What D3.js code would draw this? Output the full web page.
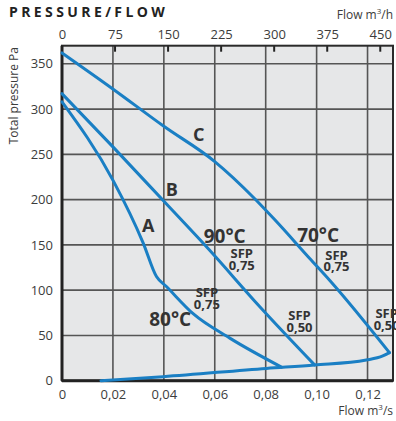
<!DOCTYPE html>
<html>
<head>
<meta charset="utf-8">
<script src="https://cdn.jsdelivr.net/npm/d3@7"></script>
<style>
  body { margin: 0; background: #fff; }
  svg { display: block; overflow: visible; }
  text { font-family: "Open Sans", "DejaVu Sans", sans-serif; }
</style>
</head>
<body>
<svg width="396" height="421"></svg>
<script>
// flow in m3/s, pressure in Pa
var curveAx = [0, 0.0201, 0.0319, 0.0371, 0.0410, 0.0515, 0.0659, 0.0862];
var curveAy = [308, 221, 152, 115, 104, 74, 47, 15];
var curveBx = [0, 0.0201, 0.0404, 0.0580, 0.0776, 0.0992];
var curveBy = [317, 258, 197, 144, 82, 17.5];
var curveCx = [0, 0.0201, 0.0400, 0.0600, 0.0757, 0.0835, 0.0973, 0.1051, 0.1286];
var curveCy = [362, 322, 281, 242, 201, 178, 135, 111, 31];
var baseX = [0.0153, 0.0397, 0.0803, 0.0992, 0.1195, 0.126, 0.1286];
var baseY = [0, 4.4, 13.6, 17.3, 22.8, 27.3, 31];

var xTicks = [0, 0.02, 0.04, 0.06, 0.08, 0.10, 0.12];
var yTicks = [0, 50, 100, 150, 200, 250, 300, 350];
var topTicks = [0, 75, 150, 225, 300, 375, 450];

var letterNames = ["A", "B", "C"];
var letterX = [0.0339, 0.0431, 0.0537];
var letterY = [164, 204, 264.7];
var tempNames = ["90°C", "80°C", "70°C"];
var tempX = [0.0639, 0.0425, 0.1006];
var tempY = [152.5, 60.4, 153.7];
var sfpValues = ["0,75", "0,75", "0,75", "0,50", "0,50"];
var sfpX = [0.0706, 0.0569, 0.1078, 0.0933, 0.1275];
var sfpY = [135.5, 92.4, 133.3, 67, 69.2];

function zip(xs, ys) {
    return xs.map(function(d, i) { return { x: d, y: ys[i] }; });
}

var svg = d3.select("svg");
var margin = { top: 45.7, right: 3, bottom: 40.3, left: 62 };
var width = 396 - margin.left - margin.right;
var height = 421 - margin.top - margin.bottom;

var x = d3.scaleLinear().domain([0, 0.13]).range([0, width]);
var xh = d3.scaleLinear().domain([0, 0.13 * 3600]).range([0, width]);
var y = d3.scaleLinear().domain([0, 370]).range([height, 0]);

var g = svg.append("g").attr("transform", "translate(" + margin.left + "," + margin.top + ")");

// plot background
g.append("rect").attr("width", width).attr("height", height).attr("fill", "#e6e7e8");

// grid
g.selectAll(".vgrid").data(xTicks.slice(1)).enter().append("line")
    .attr("x1", function(d) { return x(d); }).attr("x2", function(d) { return x(d); })
    .attr("y1", 0).attr("y2", height)
    .attr("stroke", "#555").attr("stroke-width", 1.6);
g.selectAll(".hgrid").data(yTicks.slice(1)).enter().append("line")
    .attr("x1", 0).attr("x2", width)
    .attr("y1", function(d) { return y(d); }).attr("y2", function(d) { return y(d); })
    .attr("stroke", "#555").attr("stroke-width", 1.6);

// top ticks (m3/h)
g.selectAll(".ttick").data(topTicks.slice(1)).enter().append("line")
    .attr("x1", function(d) { return xh(d); }).attr("x2", function(d) { return xh(d); })
    .attr("y1", 0).attr("y2", 6)
    .attr("stroke", "#222").attr("stroke-width", 2);

// frame
g.append("rect").attr("width", width).attr("height", height)
    .attr("fill", "none").attr("stroke", "#2a2a2a").attr("stroke-width", 2);
g.append("line").attr("x1", 0).attr("x2", 0).attr("y1", 0).attr("y2", height)
    .attr("stroke", "#222").attr("stroke-width", 3);
g.append("line").attr("x1", 0).attr("x2", width).attr("y1", height).attr("y2", height)
    .attr("stroke", "#222").attr("stroke-width", 3);

// axes labels
var fmt = function(d) { return d === 0 ? "0" : d3.format(".2f")(d).replace(".", ","); };
var xAxis = d3.axisBottom(x).tickValues(xTicks).tickFormat(fmt).tickSize(0).tickPadding(9);
var yAxis = d3.axisLeft(y).tickValues(yTicks).tickSize(0).tickPadding(9);
var tAxis = d3.axisTop(xh).tickValues(topTicks).tickSize(0).tickPadding(7);

[[xAxis, "translate(0," + height + ")"], [yAxis, null], [tAxis, null]].forEach(function(a) {
    var ax = g.append("g").call(a[0]);
    if (a[1]) ax.attr("transform", a[1]);
    ax.select(".domain").remove();
    ax.selectAll("text").attr("fill", "#3c3c3c")
        .style("font-size", "13px").style("font-family", "'Open Sans', sans-serif");
});

// curves
var line = d3.line()
    .x(function(d) { return x(d.x); })
    .y(function(d) { return y(d.y); })
    .curve(d3.curveMonotoneX);

[zip(curveAx, curveAy), zip(curveBx, curveBy), zip(curveCx, curveCy), zip(baseX, baseY)].forEach(function(c) {
    g.append("path").datum(c)
        .attr("fill", "none")
        .attr("stroke", "#1a7fc4")
        .attr("stroke-width", 3)
        .attr("stroke-linejoin", "round")
        .attr("stroke-linecap", "round")
        .attr("d", line);
});

// annotations
letterNames.forEach(function(t, i) {
    g.append("text").attr("x", x(letterX[i])).attr("y", y(letterY[i]))
        .attr("text-anchor", "middle").attr("fill", "#333")
        .style("font-size", "18px").style("font-weight", "bold").text(t);
});
tempNames.forEach(function(t, i) {
    g.append("text").attr("x", x(tempX[i])).attr("y", y(tempY[i]))
        .attr("text-anchor", "middle").attr("fill", "#333")
        .style("font-size", "19px").style("font-weight", "bold").text(t);
});
sfpValues.forEach(function(t, i) {
    var tx = g.append("text").attr("text-anchor", "middle").attr("fill", "#333")
        .style("font-size", "13px").style("font-weight", "bold");
    tx.append("tspan").attr("x", x(sfpX[i])).attr("y", y(sfpY[i])).text("SFP");
    tx.append("tspan").attr("x", x(sfpX[i])).attr("y", y(sfpY[i]) + 11.5).text(t);
});

// titles
svg.append("text").attr("x", 9).attr("y", 17)
    .attr("fill", "#222").style("font-size", "14px").style("font-weight", "bold")
    .style("letter-spacing", "3.4px").text("PRESSURE/FLOW");

var fh = svg.append("text").attr("x", 393).attr("y", 19).attr("text-anchor", "end")
    .attr("fill", "#3c3c3c").style("font-size", "12px");
fh.append("tspan").text("Flow m");
fh.append("tspan").attr("dy", -5).style("font-size", "8px").text("3");
fh.append("tspan").attr("dy", 5).text("/h");

var fs = svg.append("text").attr("x", 393).attr("y", 415).attr("text-anchor", "end")
    .attr("fill", "#3c3c3c").style("font-size", "12px");
fs.append("tspan").text("Flow m");
fs.append("tspan").attr("dy", -5).style("font-size", "8px").text("3");
fs.append("tspan").attr("dy", 5).text("/s");

svg.append("text").attr("transform", "translate(18,47) rotate(-90)")
    .attr("text-anchor", "end").attr("fill", "#3c3c3c").style("font-size", "12px")
    .text("Total pressure Pa");
</script>
</body>
</html>
